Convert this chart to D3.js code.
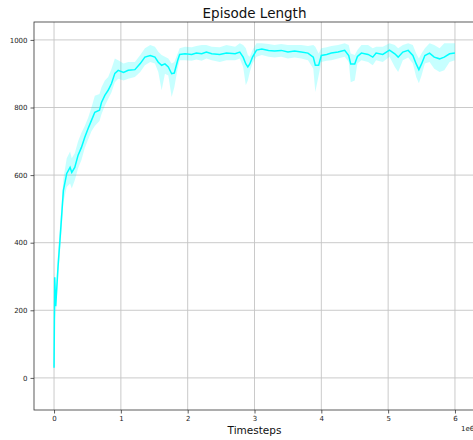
<!DOCTYPE html>
<html>
<head>
<meta charset="utf-8">
<script src="https://cdn.jsdelivr.net/npm/d3@7"></script>
<style>
  body { margin: 0; background: #fff; overflow: hidden; }
  svg { display: block; font-family: 'DejaVu Sans', sans-serif; }
</style>
</head>
<body>
<svg id="chart" width="473" height="440"></svg>
<script>
// timesteps in millions (axis shows them with a 1e6 offset label)
const timesteps = [
  0, 0.01, 0.025, 0.06, 0.10, 0.14, 0.19, 0.24, 0.265, 0.31,
  0.36, 0.41, 0.46, 0.51, 0.56, 0.61, 0.68, 0.71, 0.76, 0.81,
  0.86, 0.91, 0.96, 1.04, 1.11, 1.21, 1.29, 1.36, 1.44, 1.51,
  1.56, 1.61, 1.66, 1.71, 1.76, 1.80, 1.85, 1.88, 1.96, 2.06,
  2.13, 2.21, 2.28, 2.36, 2.48, 2.58, 2.71, 2.78, 2.83, 2.87,
  2.90, 2.93, 2.97, 3.03, 3.11, 3.21, 3.30, 3.40, 3.50, 3.60,
  3.70, 3.80, 3.88, 3.91, 3.96, 4.00, 4.08, 4.15, 4.25, 4.35,
  4.41, 4.44, 4.50, 4.54, 4.60, 4.70, 4.77, 4.82, 4.92, 5.02,
  5.10, 5.15, 5.22, 5.30, 5.37, 5.42, 5.46, 5.50, 5.55, 5.62,
  5.69, 5.77, 5.84, 5.92, 6.00
]
const meanLength = [
  30, 298, 212, 330, 440, 555, 605, 623, 608, 623,
  659, 682, 712, 738, 762, 786, 792, 815, 836, 851,
  871, 901, 910, 904, 910, 912, 930, 949, 954, 949,
  934, 925, 929, 920, 900, 902, 939, 957, 959, 957,
  961, 959, 964, 959, 957, 961, 959, 964, 949, 929,
  920, 929, 949, 970, 973, 969, 967, 969, 964, 967,
  964, 961, 949, 925, 925, 954, 957, 961, 964, 969,
  954, 929, 929, 951, 961, 957, 949, 961, 957, 970,
  959, 949, 964, 969, 954, 929, 912, 929, 954, 961,
  949, 944, 949, 959, 961
]
const lowerLength = [
  20, 260, 175, 300, 400, 520, 565, 575, 560, 585,
  620, 645, 680, 705, 730, 745, 760, 780, 805, 825,
  845, 875, 885, 880, 885, 890, 905, 925, 935, 930,
  905, 851, 900, 895, 831, 860, 915, 940, 940, 938,
  942, 938, 945, 940, 935, 940, 940, 945, 920, 866,
  880, 905, 930, 950, 955, 950, 948, 950, 945, 948,
  945, 940, 915, 846, 895, 935, 938, 940, 945, 950,
  935, 875, 880, 930, 940, 935, 925, 940, 935, 950,
  920, 905, 940, 948, 930, 890, 872, 895, 930, 935,
  915, 905, 910, 935, 940
]
const upperLength = [
  40, 315, 245, 370, 480, 590, 650, 670, 650, 665,
  700, 725, 745, 770, 800, 835, 840, 860, 880, 890,
  915, 945, 940, 930, 935, 935, 955, 975, 985, 980,
  965, 955, 950, 945, 930, 935, 960, 975, 980, 978,
  982, 985, 985, 980, 978, 985, 980, 990, 985, 975,
  955, 950, 970, 990, 990, 988, 985, 988, 985, 985,
  985, 982, 985, 980, 960, 975, 978, 982, 985, 990,
  985, 960, 955, 970, 985, 985, 975, 980, 980, 990,
  985, 975, 985, 990, 985, 960, 945, 960, 975, 990,
  985, 975, 990, 990, 990
]
const xTicks = [0, 1, 2, 3, 4, 5, 6]
const yTicks = [0, 200, 400, 600, 800, 1000]

const size = {
  width: 473,
  height: 440,
  margin: { top: 22, right: -2, bottom: 30, left: 34 }
}
size.innerWidth = size.width - size.margin.left - size.margin.right
size.innerHeight = size.height - size.margin.top - size.margin.bottom

const rows = timesteps.map((t, i) => ({
  t: t,
  mean: meanLength[i],
  lo: lowerLength[i],
  hi: upperLength[i]
}))

/**
 *
 */
function build () {
  const svg = d3.select('#chart')
  const xScale = d3.scaleLinear().domain([-0.3, 6.3]).range([0, size.innerWidth])
  const yScale = d3.scaleLinear().domain([-95, 1053]).range([size.innerHeight, 0])

  const g = svg.append('g')
    .attr('transform', `translate(${size.margin.left}, ${size.margin.top})`)

  // grid
  g.append('g')
    .selectAll('line')
    .data(xTicks)
    .join('line')
    .attr('x1', d => xScale(d))
    .attr('x2', d => xScale(d))
    .attr('y1', 0)
    .attr('y2', size.innerHeight)
    .attr('stroke', '#c4c4c4')
    .attr('stroke-width', 0.9)
  g.append('g')
    .selectAll('line')
    .data(yTicks)
    .join('line')
    .attr('x1', 0)
    .attr('x2', size.innerWidth)
    .attr('y1', d => yScale(d))
    .attr('y2', d => yScale(d))
    .attr('stroke', '#c4c4c4')
    .attr('stroke-width', 0.9)

  // band + mean line
  g.append('path')
    .datum(rows)
    .attr('d', d3.area()
      .x(d => xScale(d.t))
      .y0(d => yScale(d.lo))
      .y1(d => yScale(d.hi)))
    .attr('fill', '#00ffff')
    .attr('fill-opacity', 0.22)
  g.append('path')
    .datum(rows)
    .attr('d', d3.line()
      .x(d => xScale(d.t))
      .y(d => yScale(d.mean)))
    .attr('stroke', '#00ffff')
    .attr('stroke-width', 1.5)
    .attr('fill', 'none')

  // axes
  const xAxis = d3.axisBottom(xScale).tickValues(xTicks).tickFormat(d3.format('d'))
    .tickSize(3.5).tickPadding(3)
  const yAxis = d3.axisLeft(yScale).tickValues(yTicks).tickFormat(d3.format('d'))
    .tickSize(3.5).tickPadding(3)

  const gx = g.append('g')
    .attr('transform', `translate(0, ${size.innerHeight})`)
    .call(xAxis)
  const gy = g.append('g').call(yAxis)
  for (const ax of [gx, gy]) {
    ax.select('.domain').remove()
    ax.selectAll('.tick line').attr('stroke', '#333').attr('stroke-width', 0.8)
    ax.selectAll('.tick text')
      .attr('fill', '#222')
      .style('font-size', '7px')
      .style('font-family', 'DejaVu Sans')
  }

  // spines
  g.append('rect')
    .attr('x', 0)
    .attr('y', 0)
    .attr('width', size.innerWidth)
    .attr('height', size.innerHeight)
    .attr('fill', 'none')
    .attr('stroke', '#333')
    .attr('stroke-width', 0.8)

  // texts
  svg.append('text')
    .text('Episode Length')
    .attr('x', size.margin.left + size.innerWidth / 2)
    .attr('y', 17.5)
    .attr('text-anchor', 'middle')
    .style('font-size', '13.5px')
    .attr('fill', '#111')
  svg.append('text')
    .text('Timesteps')
    .attr('x', size.margin.left + size.innerWidth / 2)
    .attr('y', 434)
    .attr('text-anchor', 'middle')
    .style('font-size', '10.5px')
    .attr('fill', '#111')
  svg.append('text')
    .text('1e6')
    .attr('x', 461)
    .attr('y', 431)
    .style('font-size', '7px')
    .attr('fill', '#222')
}

build()
</script>
</body>
</html>
